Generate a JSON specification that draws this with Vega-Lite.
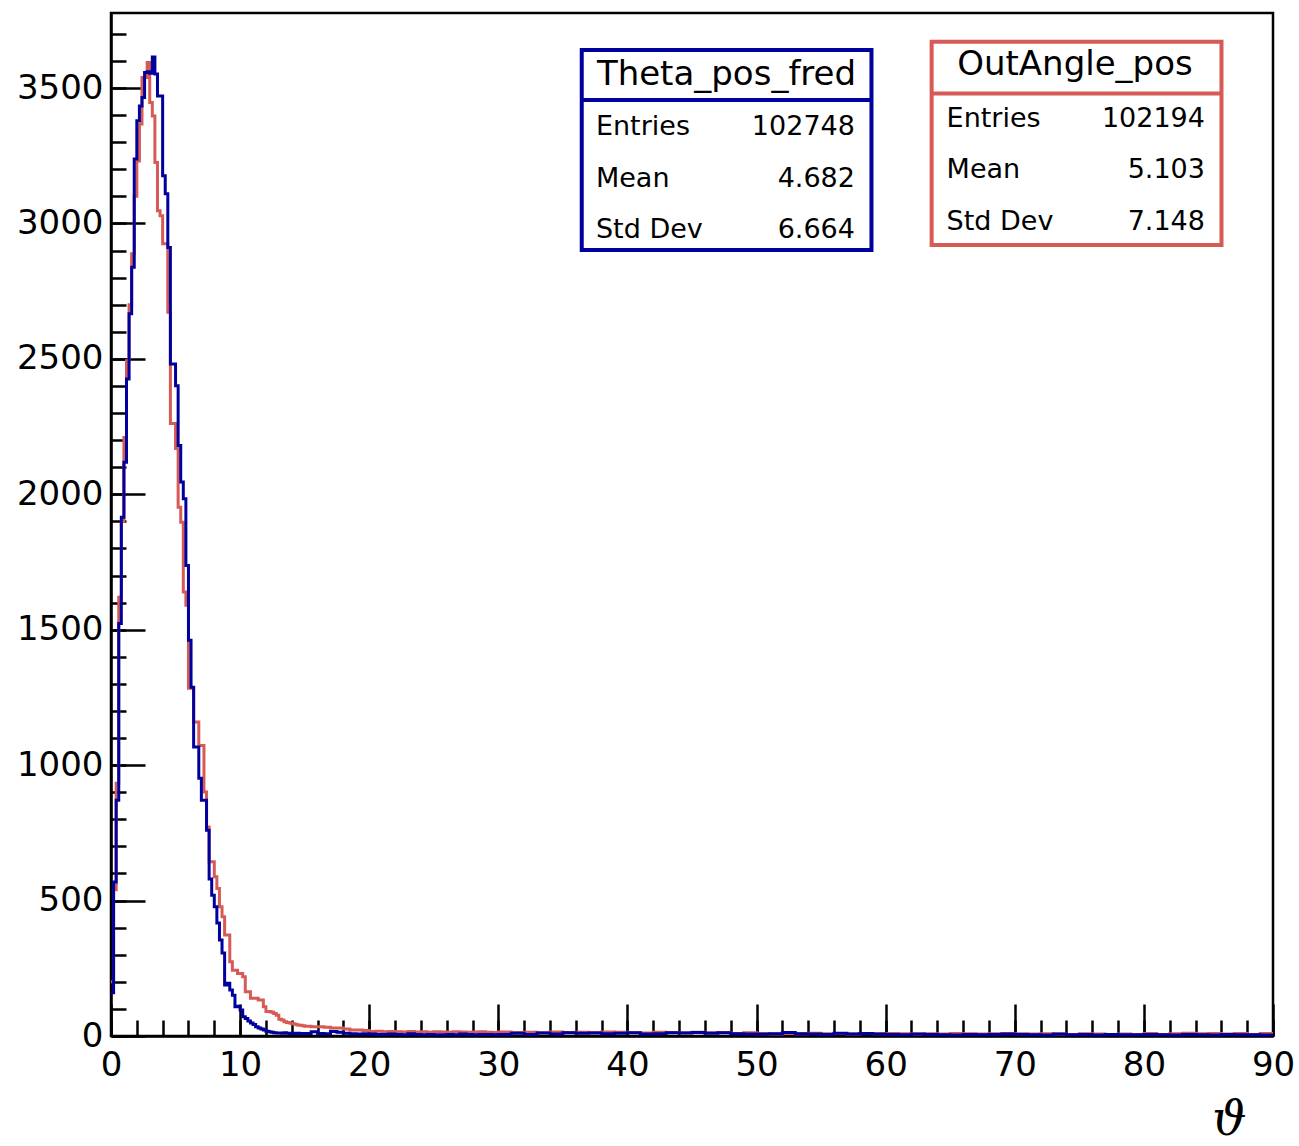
{
  "$schema": "https://vega.github.io/schema/vega-lite/v6.json",
  "width": 1162,
  "height": 1023,
  "autosize": {"type": "none"},
  "padding": {"left": 111, "top": 13, "right": 26, "bottom": 110},
  "background": "white",
  "config": {
    "view": {"stroke": "black", "strokeWidth": 2.5},
    "axis": {"grid": false, "labelFont": "DejaVu Sans", "labelFontSize": 34, "labelColor": "black", "domainColor": "black", "tickColor": "black", "domainWidth": 2.5, "tickWidth": 2.5, "labelFlush": false, "labelOverlap": false}
  },
  "datasets": {
    "theta_pos_fred": [
      {"x":0,"n":160},{"x":0.2,"n":569},{"x":0.4,"n":870},{"x":0.6,"n":1523},{"x":0.8,"n":1915},{"x":1.0,"n":2118},{"x":1.2,"n":2426},{"x":1.4,"n":2667},{"x":1.6,"n":2838},{"x":1.8,"n":3238},{"x":2.0,"n":3379},{"x":2.2,"n":3434},{"x":2.4,"n":3465},{"x":2.6,"n":3557},{"x":2.8,"n":3560},{"x":3.0,"n":3555},{"x":3.2,"n":3615},{"x":3.4,"n":3552},{"x":3.6,"n":3471},{"x":3.8,"n":3471},{"x":4.0,"n":3176},{"x":4.2,"n":3110},{"x":4.4,"n":2911},{"x":4.6,"n":2481},{"x":4.8,"n":2481},{"x":5.0,"n":2401},{"x":5.2,"n":2180},{"x":5.4,"n":2045},{"x":5.6,"n":1984},{"x":5.8,"n":1737},{"x":6.0,"n":1461},{"x":6.2,"n":1288},{"x":6.4,"n":1067},{"x":6.6,"n":1067},{"x":6.8,"n":952},{"x":7.0,"n":870},{"x":7.2,"n":870},{"x":7.4,"n":760},{"x":7.6,"n":580},{"x":7.8,"n":520},{"x":8.0,"n":477},{"x":8.2,"n":417},{"x":8.4,"n":354},{"x":8.6,"n":306},{"x":8.8,"n":188},{"x":9.0,"n":195},{"x":9.2,"n":170},{"x":9.4,"n":150},{"x":9.6,"n":108},{"x":9.8,"n":110},{"x":10.0,"n":96},{"x":10.2,"n":71},{"x":10.4,"n":65},{"x":10.6,"n":55},{"x":10.8,"n":48},{"x":11.0,"n":42},{"x":11.2,"n":34},{"x":11.4,"n":30},{"x":11.6,"n":26},{"x":11.8,"n":22},{"x":12.0,"n":18},{"x":12.2,"n":16},{"x":12.4,"n":14},{"x":12.6,"n":12},{"x":12.8,"n":11},{"x":13.0,"n":11},{"x":13.2,"n":10},{"x":13.4,"n":12},{"x":13.6,"n":10},{"x":13.8,"n":9},{"x":14.0,"n":10},{"x":14.2,"n":9},{"x":14.4,"n":10},{"x":14.6,"n":8},{"x":14.8,"n":9},
      {"x":15,"n":9},{"x":15.5,"n":16},{"x":16,"n":9},{"x":16.5,"n":8},{"x":17,"n":17},{"x":17.5,"n":14},{"x":18,"n":10},{"x":18.5,"n":8},{"x":19,"n":7},{"x":19.5,"n":8},{"x":20,"n":7},{"x":20.5,"n":6},{"x":21,"n":6},{"x":21.5,"n":7},{"x":22,"n":6},{"x":22.5,"n":5},{"x":23,"n":8},{"x":23.5,"n":6},{"x":24,"n":5},{"x":24.5,"n":6},{"x":25,"n":5},{"x":25.5,"n":5},{"x":26,"n":6},{"x":26.5,"n":5},{"x":27,"n":7},{"x":27.5,"n":6},{"x":28,"n":5},{"x":28.5,"n":6},{"x":29,"n":6},{"x":29.5,"n":5},
      {"x":30,"n":6},{"x":31,"n":10},{"x":32,"n":6},{"x":33,"n":11},{"x":34,"n":7},{"x":35,"n":12},{"x":36,"n":10},{"x":37,"n":11},{"x":38,"n":8},{"x":39,"n":10},{"x":40,"n":12},{"x":41,"n":7},{"x":42,"n":8},{"x":43,"n":12},{"x":44,"n":11},{"x":45,"n":13},{"x":46,"n":10},{"x":47,"n":12},{"x":48,"n":8},{"x":49,"n":7},{"x":50,"n":7},{"x":51,"n":8},{"x":52,"n":13},{"x":53,"n":8},{"x":54,"n":7},{"x":55,"n":6},{"x":56,"n":10},{"x":57,"n":7},{"x":58,"n":9},{"x":59,"n":7},{"x":60,"n":6},{"x":61,"n":5},{"x":62,"n":7},{"x":63,"n":6},{"x":64,"n":5},{"x":65,"n":4},{"x":66,"n":6},{"x":67,"n":5},{"x":68,"n":6},{"x":69,"n":7},{"x":70,"n":6},{"x":71,"n":5},{"x":72,"n":4},{"x":73,"n":7},{"x":74,"n":5},{"x":75,"n":6},{"x":76,"n":4},{"x":77,"n":6},{"x":78,"n":5},{"x":79,"n":5},{"x":80,"n":6},{"x":81,"n":5},{"x":82,"n":4},{"x":83,"n":6},{"x":84,"n":5},{"x":85,"n":4},{"x":86,"n":6},{"x":87,"n":5},{"x":88,"n":5},{"x":89,"n":4},{"x":90,"n":4}
    ],
    "outangle_pos": [
      {"x":0,"n":200},{"x":0.2,"n":540},{"x":0.4,"n":933},{"x":0.6,"n":1620},{"x":0.8,"n":1900},{"x":1.0,"n":2210},{"x":1.2,"n":2493},{"x":1.4,"n":2700},{"x":1.6,"n":2888},{"x":1.8,"n":3100},{"x":2.0,"n":3231},{"x":2.2,"n":3367},{"x":2.4,"n":3539},{"x":2.6,"n":3539},{"x":2.8,"n":3594},{"x":3.0,"n":3447},{"x":3.2,"n":3397},{"x":3.4,"n":3225},{"x":3.6,"n":3047},{"x":3.8,"n":3028},{"x":4.0,"n":2925},{"x":4.2,"n":2925},{"x":4.4,"n":2672},{"x":4.6,"n":2261},{"x":4.8,"n":2261},{"x":5.0,"n":2169},{"x":5.2,"n":1952},{"x":5.4,"n":1897},{"x":5.6,"n":1639},{"x":5.8,"n":1590},{"x":6.0,"n":1284},{"x":6.2,"n":1284},{"x":6.4,"n":1159},{"x":6.6,"n":1159},{"x":6.8,"n":1073},{"x":7.0,"n":1073},{"x":7.2,"n":901},{"x":7.4,"n":772},{"x":7.6,"n":643},{"x":7.8,"n":643},{"x":8.0,"n":588},{"x":8.2,"n":545},{"x":8.4,"n":477},{"x":8.6,"n":440},{"x":8.8,"n":373},{"x":9.0,"n":373},{"x":9.2,"n":274},{"x":9.4,"n":243},{"x":9.6,"n":243},{"x":9.8,"n":231},{"x":10.0,"n":231},{"x":10.2,"n":219},{"x":10.4,"n":163},{"x":10.6,"n":163},{"x":10.8,"n":139},{"x":11.0,"n":139},{"x":11.2,"n":139},{"x":11.4,"n":133},{"x":11.6,"n":133},{"x":11.8,"n":108},{"x":12.0,"n":90},{"x":12.2,"n":90},{"x":12.4,"n":88},{"x":12.6,"n":83},{"x":12.8,"n":77},{"x":13.0,"n":62},{"x":13.2,"n":59},{"x":13.4,"n":53},{"x":13.6,"n":50},{"x":13.8,"n":48},{"x":14.0,"n":45},{"x":14.2,"n":43},{"x":14.4,"n":41},{"x":14.6,"n":40},{"x":14.8,"n":38},
      {"x":15,"n":36},{"x":15.5,"n":34},{"x":16,"n":34},{"x":16.5,"n":32},{"x":17,"n":30},{"x":17.5,"n":30},{"x":18,"n":26},{"x":18.5,"n":22},{"x":19,"n":22},{"x":19.5,"n":20},{"x":20,"n":17},{"x":20.5,"n":18},{"x":21,"n":16},{"x":21.5,"n":17},{"x":22,"n":16},{"x":22.5,"n":15},{"x":23,"n":17},{"x":23.5,"n":15},{"x":24,"n":16},{"x":24.5,"n":14},{"x":25,"n":16},{"x":25.5,"n":15},{"x":26,"n":14},{"x":26.5,"n":16},{"x":27,"n":15},{"x":27.5,"n":14},{"x":28,"n":15},{"x":28.5,"n":16},{"x":29,"n":14},{"x":29.5,"n":13},
      {"x":30,"n":15},{"x":31,"n":13},{"x":32,"n":14},{"x":33,"n":12},{"x":34,"n":15},{"x":35,"n":13},{"x":36,"n":14},{"x":37,"n":13},{"x":38,"n":15},{"x":39,"n":14},{"x":40,"n":12},{"x":41,"n":11},{"x":42,"n":14},{"x":43,"n":13},{"x":44,"n":12},{"x":45,"n":14},{"x":46,"n":12},{"x":47,"n":13},{"x":48,"n":9},{"x":49,"n":12},{"x":50,"n":8},{"x":51,"n":7},{"x":52,"n":9},{"x":53,"n":8},{"x":54,"n":10},{"x":55,"n":8},{"x":56,"n":9},{"x":57,"n":7},{"x":58,"n":9},{"x":59,"n":8},{"x":60,"n":9},{"x":61,"n":8},{"x":62,"n":7},{"x":63,"n":8},{"x":64,"n":7},{"x":65,"n":9},{"x":66,"n":8},{"x":67,"n":7},{"x":68,"n":8},{"x":69,"n":9},{"x":70,"n":8},{"x":71,"n":7},{"x":72,"n":8},{"x":73,"n":7},{"x":74,"n":6},{"x":75,"n":8},{"x":76,"n":7},{"x":77,"n":6},{"x":78,"n":7},{"x":79,"n":6},{"x":80,"n":9},{"x":81,"n":6},{"x":82,"n":8},{"x":83,"n":10},{"x":84,"n":8},{"x":85,"n":9},{"x":86,"n":7},{"x":87,"n":9},{"x":88,"n":6},{"x":89,"n":9},{"x":90,"n":9}
    ],
    "boxes": [
      {"name": "Theta_pos_fred", "entries": "102748", "mean": "4.682", "stddev": "6.664"},
      {"name": "OutAngle_pos", "entries": "102194", "mean": "5.103", "stddev": "7.148"}
    ]
  },
  "resolve": {"axis": {"x": "independent", "y": "independent"}},
  "layer": [
    {
      "data": {"name": "outangle_pos"},
      "mark": {"type": "line", "interpolate": "step-after", "color": "#d65a55", "strokeWidth": 3},
      "encoding": {
        "x": {"field": "x", "type": "quantitative", "scale": {"domain": [0, 90], "nice": false, "zero": false},
              "axis": {"orient": "bottom", "values": [0,10,20,30,40,50,60,70,80,90], "format": "d", "ticks": false, "labelPadding": 12,
                       "title": "ϑ", "titleFont": "DejaVu Serif", "titleFontStyle": "italic", "titleFontWeight": "normal", "titleFontSize": 48, "titleColor": "black",
                       "titleAnchor": "start", "titleAlign": "center", "titleBaseline": "alphabetic", "titleX": 1118, "titleY": 98}},
        "y": {"field": "n", "type": "quantitative", "scale": {"domain": [0, 3777], "nice": false},
              "axis": {"orient": "left", "values": [0,500,1000,1500,2000,2500,3000,3500], "format": "d", "ticks": false, "labelPadding": 8, "title": null}}
      }
    },
    {
      "data": {"name": "theta_pos_fred"},
      "mark": {"type": "line", "interpolate": "step-after", "color": "#00009c", "strokeWidth": 3},
      "encoding": {
        "x": {"field": "x", "type": "quantitative",
              "axis": {"orient": "bottom", "values": [0,10,20,30,40,50,60,70,80,90], "labels": false, "domain": false, "tickSize": -32, "title": null}},
        "y": {"field": "n", "type": "quantitative",
              "axis": {"orient": "left", "values": [0,500,1000,1500,2000,2500,3000,3500], "labels": false, "domain": false, "tickSize": -34, "title": null}}
      }
    },
    {
      "data": {"name": "boxes"},
      "transform": [{"filter": "datum.name === 'Theta_pos_fred'"}],
      "mark": {"type": "rect", "fill": "white", "stroke": "#00009c", "strokeWidth": 4},
      "encoding": {
        "x": {"datum": 36.46, "type": "quantitative",
              "axis": {"orient": "bottom", "values": [0,2,4,6,8,10,12,14,16,18,20,22,24,26,28,30,32,34,36,38,40,42,44,46,48,50,52,54,56,58,60,62,64,66,68,70,72,74,76,78,80,82,84,86,88,90], "labels": false, "domain": false, "tickSize": -16, "title": null}},
        "x2": {"datum": 58.9},
        "y": {"datum": 3640.3, "type": "quantitative",
              "axis": {"orient": "left", "values": [0,100,200,300,400,500,600,700,800,900,1000,1100,1200,1300,1400,1500,1600,1700,1800,1900,2000,2100,2200,2300,2400,2500,2600,2700,2800,2900,3000,3100,3200,3300,3400,3500,3600,3700], "labels": false, "domain": false, "tickSize": -15, "title": null}},
        "y2": {"datum": 2901.9}
      }
    },
    {
      "data": {"name": "boxes"},
      "transform": [{"filter": "datum.name === 'Theta_pos_fred'"}],
      "mark": {"type": "rule", "color": "#00009c", "strokeWidth": 4},
      "encoding": {
        "x": {"datum": 36.46, "type": "quantitative", "axis": null},
        "x2": {"datum": 58.9},
        "y": {"datum": 3455.7, "type": "quantitative", "axis": null}
      }
    },
    {
      "data": {"name": "boxes"},
      "transform": [{"filter": "datum.name === 'Theta_pos_fred'"}],
      "mark": {"type": "text", "font": "DejaVu Sans", "fontSize": 34, "align": "center", "baseline": "alphabetic", "color": "black"},
      "encoding": {
        "x": {"datum": 47.67, "type": "quantitative", "axis": null},
        "y": {"datum": 3511, "type": "quantitative", "axis": null},
        "text": {"field": "name"}
      }
    },
    {
      "data": {"name": "boxes"},
      "transform": [{"filter": "datum.name === 'Theta_pos_fred'"}],
      "mark": {"type": "text", "font": "DejaVu Sans", "fontSize": 27, "align": "left", "baseline": "alphabetic", "color": "black"},
      "encoding": {
        "x": {"datum": 37.56, "type": "quantitative", "axis": null},
        "y": {"datum": 3326.4, "type": "quantitative", "axis": null},
        "text": {"value": "Entries"}
      }
    },
    {
      "data": {"name": "boxes"},
      "transform": [{"filter": "datum.name === 'Theta_pos_fred'"}],
      "mark": {"type": "text", "font": "DejaVu Sans", "fontSize": 27, "align": "left", "baseline": "alphabetic", "color": "black"},
      "encoding": {
        "x": {"datum": 37.56, "type": "quantitative", "axis": null},
        "y": {"datum": 3135.6, "type": "quantitative", "axis": null},
        "text": {"value": "Mean"}
      }
    },
    {
      "data": {"name": "boxes"},
      "transform": [{"filter": "datum.name === 'Theta_pos_fred'"}],
      "mark": {"type": "text", "font": "DejaVu Sans", "fontSize": 27, "align": "left", "baseline": "alphabetic", "color": "black"},
      "encoding": {
        "x": {"datum": 37.56, "type": "quantitative", "axis": null},
        "y": {"datum": 2945, "type": "quantitative", "axis": null},
        "text": {"value": "Std Dev"}
      }
    },
    {
      "data": {"name": "boxes"},
      "transform": [{"filter": "datum.name === 'Theta_pos_fred'"}],
      "mark": {"type": "text", "font": "DejaVu Sans", "fontSize": 27, "align": "right", "baseline": "alphabetic", "color": "black"},
      "encoding": {
        "x": {"datum": 57.62, "type": "quantitative", "axis": null},
        "y": {"datum": 3326.4, "type": "quantitative", "axis": null},
        "text": {"field": "entries"}
      }
    },
    {
      "data": {"name": "boxes"},
      "transform": [{"filter": "datum.name === 'Theta_pos_fred'"}],
      "mark": {"type": "text", "font": "DejaVu Sans", "fontSize": 27, "align": "right", "baseline": "alphabetic", "color": "black"},
      "encoding": {
        "x": {"datum": 57.62, "type": "quantitative", "axis": null},
        "y": {"datum": 3135.6, "type": "quantitative", "axis": null},
        "text": {"field": "mean"}
      }
    },
    {
      "data": {"name": "boxes"},
      "transform": [{"filter": "datum.name === 'Theta_pos_fred'"}],
      "mark": {"type": "text", "font": "DejaVu Sans", "fontSize": 27, "align": "right", "baseline": "alphabetic", "color": "black"},
      "encoding": {
        "x": {"datum": 57.62, "type": "quantitative", "axis": null},
        "y": {"datum": 2945, "type": "quantitative", "axis": null},
        "text": {"field": "stddev"}
      }
    },
    {
      "data": {"name": "boxes"},
      "transform": [{"filter": "datum.name === 'OutAngle_pos'"}],
      "mark": {"type": "rect", "fill": "white", "stroke": "#d65a55", "strokeWidth": 4},
      "encoding": {
        "x": {"datum": 63.56, "type": "quantitative", "axis": null},
        "x2": {"datum": 86.01},
        "y": {"datum": 3671, "type": "quantitative", "axis": null},
        "y2": {"datum": 2920.3}
      }
    },
    {
      "data": {"name": "boxes"},
      "transform": [{"filter": "datum.name === 'OutAngle_pos'"}],
      "mark": {"type": "rule", "color": "#d65a55", "strokeWidth": 4},
      "encoding": {
        "x": {"datum": 63.56, "type": "quantitative", "axis": null},
        "x2": {"datum": 86.01},
        "y": {"datum": 3479.7, "type": "quantitative", "axis": null}
      }
    },
    {
      "data": {"name": "boxes"},
      "transform": [{"filter": "datum.name === 'OutAngle_pos'"}],
      "mark": {"type": "text", "font": "DejaVu Sans", "fontSize": 34, "align": "center", "baseline": "alphabetic", "color": "black"},
      "encoding": {
        "x": {"datum": 74.66, "type": "quantitative", "axis": null},
        "y": {"datum": 3548, "type": "quantitative", "axis": null},
        "text": {"field": "name"}
      }
    },
    {
      "data": {"name": "boxes"},
      "transform": [{"filter": "datum.name === 'OutAngle_pos'"}],
      "mark": {"type": "text", "font": "DejaVu Sans", "fontSize": 27, "align": "left", "baseline": "alphabetic", "color": "black"},
      "encoding": {
        "x": {"datum": 64.72, "type": "quantitative", "axis": null},
        "y": {"datum": 3357, "type": "quantitative", "axis": null},
        "text": {"value": "Entries"}
      }
    },
    {
      "data": {"name": "boxes"},
      "transform": [{"filter": "datum.name === 'OutAngle_pos'"}],
      "mark": {"type": "text", "font": "DejaVu Sans", "fontSize": 27, "align": "left", "baseline": "alphabetic", "color": "black"},
      "encoding": {
        "x": {"datum": 64.72, "type": "quantitative", "axis": null},
        "y": {"datum": 3166.5, "type": "quantitative", "axis": null},
        "text": {"value": "Mean"}
      }
    },
    {
      "data": {"name": "boxes"},
      "transform": [{"filter": "datum.name === 'OutAngle_pos'"}],
      "mark": {"type": "text", "font": "DejaVu Sans", "fontSize": 27, "align": "left", "baseline": "alphabetic", "color": "black"},
      "encoding": {
        "x": {"datum": 64.72, "type": "quantitative", "axis": null},
        "y": {"datum": 2975.7, "type": "quantitative", "axis": null},
        "text": {"value": "Std Dev"}
      }
    },
    {
      "data": {"name": "boxes"},
      "transform": [{"filter": "datum.name === 'OutAngle_pos'"}],
      "mark": {"type": "text", "font": "DejaVu Sans", "fontSize": 27, "align": "right", "baseline": "alphabetic", "color": "black"},
      "encoding": {
        "x": {"datum": 84.73, "type": "quantitative", "axis": null},
        "y": {"datum": 3357, "type": "quantitative", "axis": null},
        "text": {"field": "entries"}
      }
    },
    {
      "data": {"name": "boxes"},
      "transform": [{"filter": "datum.name === 'OutAngle_pos'"}],
      "mark": {"type": "text", "font": "DejaVu Sans", "fontSize": 27, "align": "right", "baseline": "alphabetic", "color": "black"},
      "encoding": {
        "x": {"datum": 84.73, "type": "quantitative", "axis": null},
        "y": {"datum": 3166.5, "type": "quantitative", "axis": null},
        "text": {"field": "mean"}
      }
    },
    {
      "data": {"name": "boxes"},
      "transform": [{"filter": "datum.name === 'OutAngle_pos'"}],
      "mark": {"type": "text", "font": "DejaVu Sans", "fontSize": 27, "align": "right", "baseline": "alphabetic", "color": "black"},
      "encoding": {
        "x": {"datum": 84.73, "type": "quantitative", "axis": null},
        "y": {"datum": 2975.7, "type": "quantitative", "axis": null},
        "text": {"field": "stddev"}
      }
    }
  ]
}
